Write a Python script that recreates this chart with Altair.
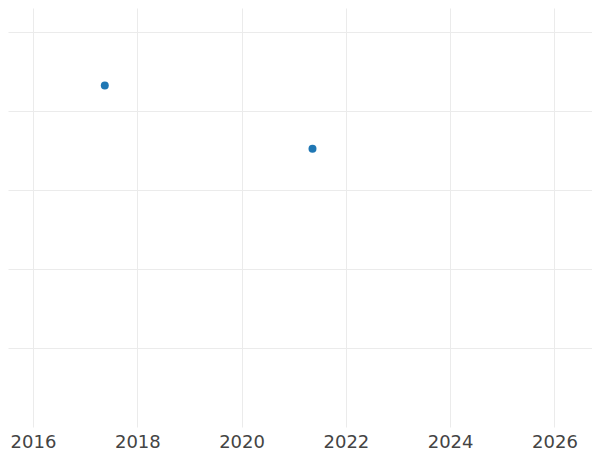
import altair as alt
import pandas as pd

dates = ["2017-05-18", "2021-05-12"]
values = [43.2, 35.2]
x_domain = ["2015-07-10", "2026-09-21"]
y_ticks = [10, 20, 30, 40, 50]

df = pd.DataFrame({"date": dates, "value": values})

chart = alt.Chart(df).mark_circle(size=64, opacity=1, color="#1f77b4").encode(
    x=alt.X("date:T",
            scale=alt.Scale(domain=x_domain, nice=False),
            axis=alt.Axis(title=None, format="%Y", tickCount={"interval": "year", "step": 2},
                          domain=False, ticks=False, labelFontSize=18, labelFont="DejaVu Sans",
                          labelColor="#444444", labelPadding=6, gridColor="#ebebeb",
                          labelFlush=False)),
    y=alt.Y("value:Q",
            scale=alt.Scale(domain=[0, 53], nice=False, zero=False),
            axis=alt.Axis(title=None, values=y_ticks, labels=False, ticks=False,
                          domain=False, gridColor="#ebebeb")),
).properties(
    width=584, height=419,
    autosize=alt.AutoSizeParams(type="none"),
    padding={"left": 0, "top": 0, "right": 0, "bottom": 30},
).configure_view(stroke=None)

chart.save("out.html", embed_options={"renderer": "svg", "actions": False})
